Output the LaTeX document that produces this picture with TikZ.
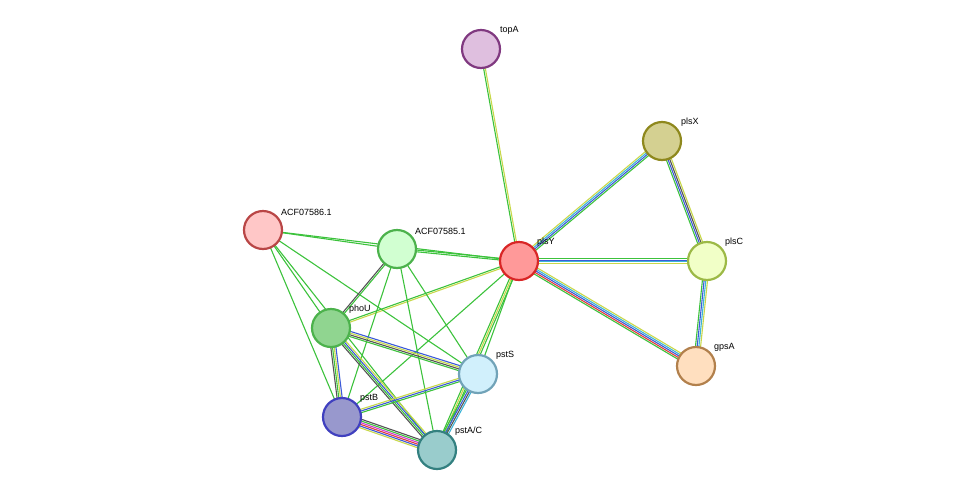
\documentclass[tikz,border=0pt]{standalone}
\usepackage{fontspec}
\setmainfont{Liberation Sans}
\usetikzlibrary{calc}
\definecolor{cnb}{HTML}{3CC23C}
\definecolor{cyl}{HTML}{C8D84A}
\definecolor{cbl}{HTML}{3C5AD8}
\definecolor{ccy}{HTML}{3CB4D8}
\definecolor{cbk}{HTML}{555555}
\definecolor{crd}{HTML}{E03C3C}
\definecolor{cmg}{HTML}{D03CD0}
\tikzset{
  prot/.style 2 args={circle, minimum size=38pt, inner sep=0pt, line width=2.2pt, fill=#1, draw=#2},
  lab/.style={font=\fontsize{9}{10}\selectfont, anchor=south west, inner sep=1pt}
}
% parallel coloured strands between two proteins
\newcommand{\strands}[3]{%
  \path let \p1=($(#2)-(#1)$), \n1={atan2(\y1,\x1)} in
    \pgfextra{\xdef\ang{\n1}};
  \foreach \c [count=\i] in {#3} {\xdef\nstr{\i}}
  \foreach \c [count=\i] in {#3} {
    \pgfmathsetmacro\off{(\i-(\nstr+1)/2)*1.7}
    \draw[\c, line width=1.1pt, transform canvas={shift={(\ang+90:\off pt)}}] (#1) -- (#2);
  }%
}
\begin{document}
\begin{tikzpicture}[x=1pt,y=-1pt]
\useasboundingbox (0,0) rectangle (975,496);

% proteins
\coordinate (topA) at (481,49);
\coordinate (plsX) at (662,141);
\coordinate (acf6) at (263,230);
\coordinate (acf5) at (397,249);
\coordinate (plsY) at (519,261);
\coordinate (plsC) at (707,261);
\coordinate (phoU) at (331,328);
\coordinate (pstS) at (478,374);
\coordinate (gpsA) at (696,366);
\coordinate (pstB) at (342,417);
\coordinate (pstAC) at (437,450);

% interactions
\strands{topA}{plsY}{cnb,cyl}
\strands{plsX}{plsY}{cyl,ccy,cbl,cnb}
\strands{plsX}{plsC}{cnb,cbl,cbk,cyl}
\strands{plsY}{plsC}{cyl,ccy,cbl,cnb}
\strands{plsC}{gpsA}{cnb,cbl,ccy,cyl}
\strands{plsY}{gpsA}{cnb,crd,cbl,ccy,cyl}
\strands{plsY}{acf5}{cnb,cnb}
\strands{plsY}{acf6}{cnb}
\strands{plsY}{phoU}{cnb,cyl}
\strands{plsY}{pstS}{cnb}
\strands{plsY}{pstAC}{cnb,cyl,cnb}
\strands{plsY}{pstB}{cnb}
\strands{acf6}{acf5}{cnb}
\strands{acf6}{phoU}{cnb}
\strands{acf6}{pstS}{cnb}
\strands{acf6}{pstB}{cnb}
\strands{acf6}{pstAC}{cnb}
\strands{acf5}{phoU}{cbk,cnb}
\strands{acf5}{pstB}{cnb}
\strands{acf5}{pstAC}{cnb}
\strands{acf5}{pstS}{cnb}
\strands{phoU}{pstS}{cnb,cbk,cyl,cbl}
\strands{phoU}{pstB}{cbk,cnb,cyl,cbl}
\strands{phoU}{pstAC}{cbk,cnb,cbl,cyl}
\strands{pstS}{pstB}{cyl,cbl,cnb}
\strands{pstS}{pstAC}{cnb,cbl,cbk,ccy}
\strands{pstB}{pstAC}{cyl,cbl,crd,cmg,cnb,cbk}

% nodes
\node[prot={violet!25}{violet!55!gray}] (n1) at (topA) {};
\node[prot={yellow!45!gray!70}{olive!80!gray}] (n2) at (plsX) {};
\node[prot={red!22}{red!45!gray}] (n3) at (acf6) {};
\node[prot={green!18}{green!40!gray}] (n4) at (acf5) {};
\node[prot={red!40}{red!70!gray}] (n5) at (plsY) {};
\node[prot={lime!22}{lime!45!gray}] (n6) at (plsC) {};
\node[prot={green!45!gray!60}{green!40!gray}] (n7) at (phoU) {};
\node[prot={cyan!18}{cyan!40!gray}] (n8) at (pstS) {};
\node[prot={orange!25}{orange!40!gray}] (n9) at (gpsA) {};
\node[prot={blue!35!gray!60}{blue!50!gray}] (n10) at (pstB) {};
\node[prot={teal!40}{teal!60!gray}] (n11) at (pstAC) {};

% labels
\node[lab] at ($(topA)+(18,-13)$) {topA};
\node[lab] at ($(plsX)+(18,-13)$) {plsX};
\node[lab] at ($(acf6)+(17,-13)$) {ACF07586.1};
\node[lab] at ($(acf5)+(17,-13)$) {ACF07585.1};
\node[lab] at ($(plsY)+(17,-13)$) {plsY};
\node[lab] at ($(plsC)+(17,-13)$) {plsC};
\node[lab] at ($(phoU)+(17,-13)$) {phoU};
\node[lab] at ($(pstS)+(17,-13)$) {pstS};
\node[lab] at ($(gpsA)+(17,-13)$) {gpsA};
\node[lab] at ($(pstB)+(17,-13)$) {pstB};
\node[lab] at ($(pstAC)+(17,-13)$) {pstA/C};
\end{tikzpicture}
\end{document}
